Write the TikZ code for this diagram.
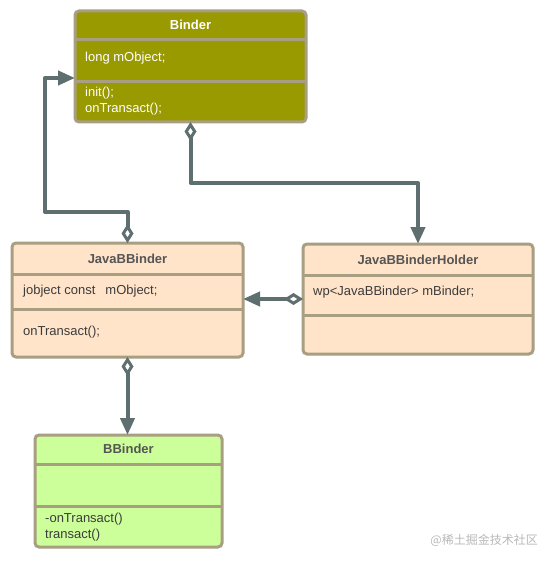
\documentclass[tikz,border=0pt]{standalone}
\usepackage{fontspec}
\setmainfont{Liberation Sans}
\newfontfamily\cjk{Noto Sans CJK SC}
\usetikzlibrary{arrows.meta}
\definecolor{boxline}{RGB}{168,158,130}
\definecolor{binderfill}{RGB}{153,153,0}
\definecolor{peach}{RGB}{255,228,201}
\definecolor{lgreen}{RGB}{204,255,153}
\definecolor{conncol}{RGB}{95,110,110}
\definecolor{titlegray}{RGB}{85,85,85}
\definecolor{bodygray}{RGB}{60,60,60}
\definecolor{wmgray}{RGB}{185,185,185}
\tikzset{
  classbox/.style={draw=boxline, line width=3pt, rounded corners=4pt, inner sep=0pt, outer sep=0pt, anchor=north west},
  sepline/.style={draw=boxline, line width=3pt},
  titletext/.style={font=\bfseries\fontsize{13}{16}\selectfont, text=titlegray, inner sep=0pt},
  bodytext/.style={font=\fontsize{13}{16}\selectfont, text=bodygray, anchor=west, align=left, inner sep=0pt},
  conn/.style={draw=conncol, line width=4pt, line join=round},
  agg/.style={{Diamond[fill=white,length=19pt,width=12pt,line width=3pt]}-{Triangle[length=17pt,width=14pt]}}
}
\begin{document}
\begin{tikzpicture}[x=1pt,y=-1pt]
\useasboundingbox[fill=white] (0,0) rectangle (549,561);
% Binder
\node[classbox, fill=binderfill, minimum width=231pt, minimum height=111pt] (binder) at (75,11) {};
\draw[sepline] (75,40) -- (306,40);
\draw[sepline] (75,82) -- (306,82);
\node[titletext, text=white] (binderT) at (190.5,25) {Binder};
\node[bodytext, text=white] (binderA) at (85,58) {long mObject;};
\node[bodytext, text=white] (binderM) at (85,101) {init();\\onTransact();};
% JavaBBinder
\node[classbox, fill=peach, minimum width=231pt, minimum height=114pt] (jbb) at (12,243) {};
\draw[sepline] (12,274) -- (243,274);
\draw[sepline] (12,309) -- (243,309);
\node[titletext] (jbbT) at (127.5,259) {JavaBBinder};
\node[bodytext] (jbbA) at (23,291) {jobject const\hspace{10pt}mObject;};
\node[bodytext] (jbbM) at (23,332) {onTransact();};
% JavaBBinderHolder
\node[classbox, fill=peach, minimum width=230pt, minimum height=110pt] (holder) at (303,244) {};
\draw[sepline] (303,275) -- (533,275);
\draw[sepline] (303,315) -- (533,315);
\node[titletext] (holderT) at (418,260) {JavaBBinderHolder};
\node[bodytext] (holderA) at (313,292) {wp<JavaBBinder> mBinder;};
% BBinder
\node[classbox, fill=lgreen, minimum width=187pt, minimum height=112pt] (bb) at (35,435) {};
\draw[sepline] (35,464) -- (222,464);
\draw[sepline] (35,506) -- (222,506);
\node[titletext] (bbT) at (128.5,449) {BBinder};
\node[bodytext] (bbM) at (45,527) {-onTransact()\\transact()};
% connectors
\draw[conn, agg] (jbb.north) |- (45,212) |- (binder.west |- 0,78);
\draw[conn, agg] (binder.south) -- (binder.south |- 0,183) -| (holder.north);
\draw[conn, agg] (holder.west |- 0,299) -- (jbb.east |- 0,299);
\draw[conn, agg] (jbb.south) -- (jbb.south |- bb.north);
% watermark
\node[font=\cjk\fontsize{12}{14}\selectfont, text=wmgray, anchor=east, inner sep=0pt] (wm) at (538,540) {@稀土掘金技术社区};
\end{tikzpicture}
\end{document}
